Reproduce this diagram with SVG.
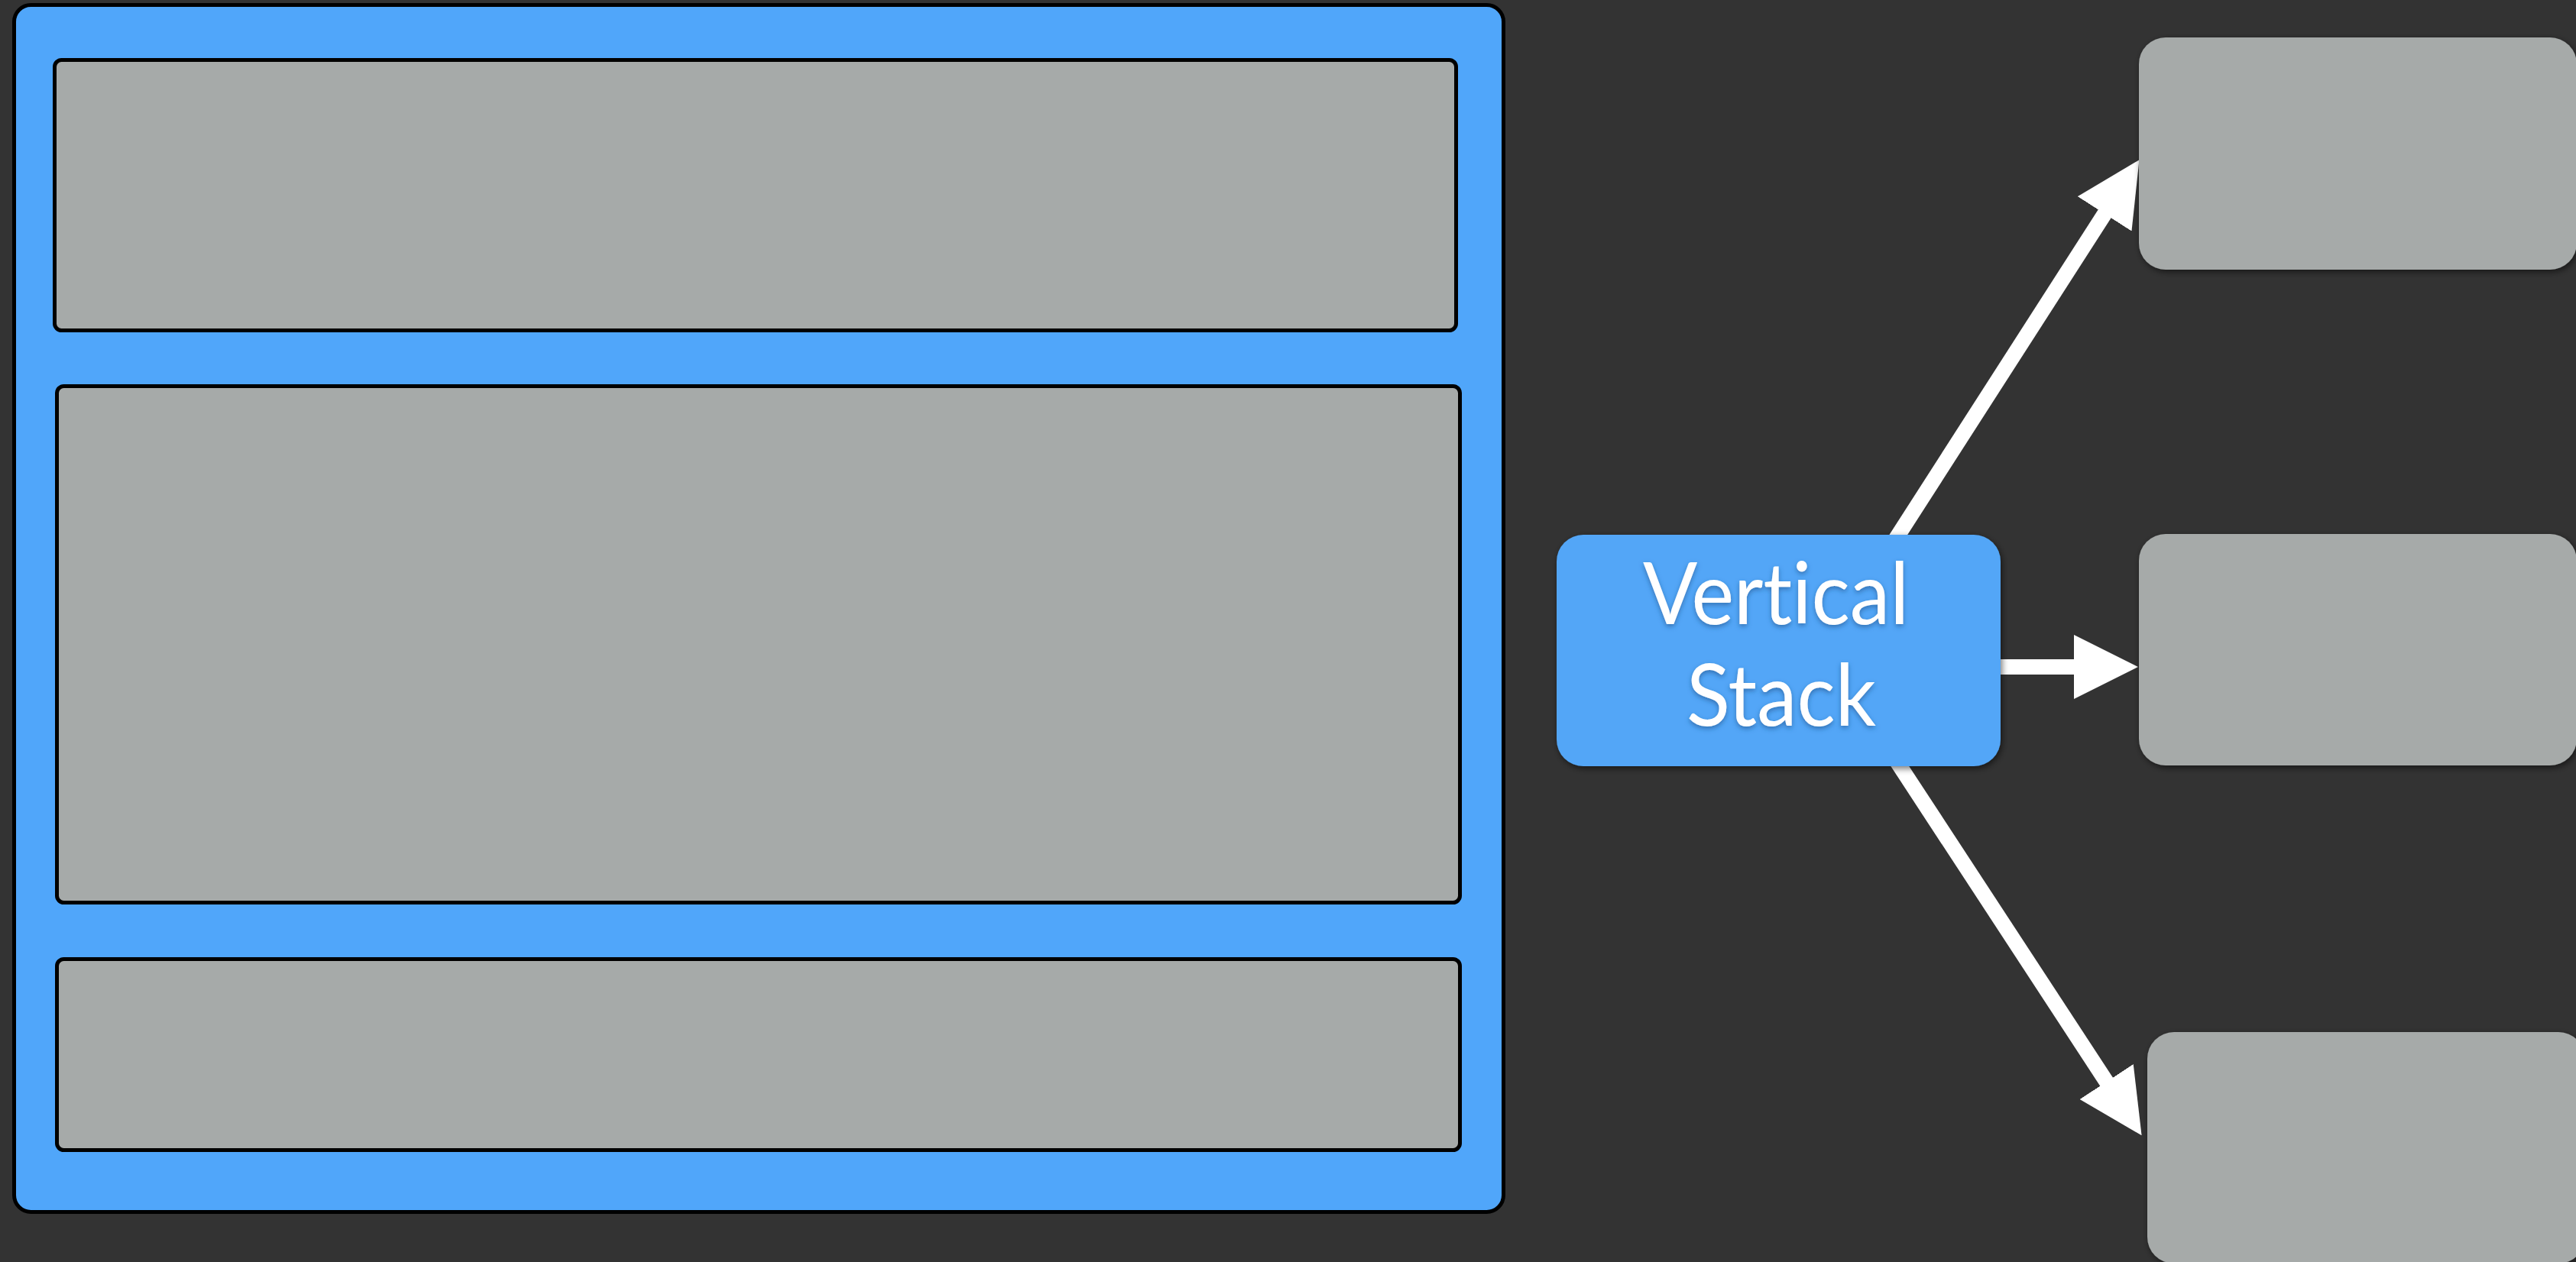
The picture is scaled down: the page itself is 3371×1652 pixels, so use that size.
<svg xmlns="http://www.w3.org/2000/svg" width="3371" height="1652" viewBox="0 0 3371 1652">
  <style>
    .frame { fill: #50a6fa; stroke: #000; stroke-width: 5; }
    .slot { fill: #a6aaa9; stroke: #000; stroke-width: 5; }
    .card { fill: #a6aaa9; filter: url(#soft); }
    .stack { fill: #52a6f7; filter: url(#soft); }
    .label { font-family: Lato, "Open Sans", "Liberation Sans", sans-serif; font-size: 113px; fill: #fff; text-anchor: middle; font-variant-ligatures: none; font-feature-settings: "liga" 0; filter: url(#glyphShade); }
    .link { stroke: #fff; stroke-width: 20; fill: none; marker-end: url(#head); }
  </style>
  <defs>
    <filter id="soft" x="-10%" y="-10%" width="120%" height="130%">
      <feDropShadow dx="2" dy="3" stdDeviation="4" flood-color="#000" flood-opacity="0.55"/>
    </filter>
    <filter id="glyphShade" x="-10%" y="-20%" width="120%" height="140%">
      <feDropShadow dx="0" dy="3" stdDeviation="3" flood-color="#1a4f86" flood-opacity="0.6"/>
    </filter>
    <marker id="head" markerUnits="userSpaceOnUse" markerWidth="84" markerHeight="84" viewBox="0 0 83 83" refX="4" refY="41.5" orient="auto">
      <path d="M0,0 L83,41.5 L0,83 z" fill="#fff"/>
    </marker>
  </defs>

  <rect width="3371" height="1652" fill="#333333"/>

  <!-- left panel: the stacked container and its three rows -->
  <g id="container">
    <rect class="frame" x="18.5" y="6.5" width="1949" height="1580" rx="22"/>
  </g>
  <g id="row-top">
    <rect class="slot" x="71.5" y="78.5" width="1834" height="354" rx="9"/>
  </g>
  <g id="row-middle">
    <rect class="slot" x="74.5" y="505.5" width="1836" height="676" rx="9"/>
  </g>
  <g id="row-bottom">
    <rect class="slot" x="74.5" y="1255.5" width="1836" height="250" rx="9"/>
  </g>

  <!-- arrows fanning out from the stack node -->
  <g id="connectors">
    <line class="link" x1="2381.5" y1="860" x2="2756.3" y2="276.5"/>
    <line class="link" x1="2400" y1="873" x2="2718" y2="873"/>
    <line class="link" x1="2392.7" y1="860" x2="2758.8" y2="1419.4"/>
  </g>

  <!-- right column of child cards -->
  <g id="child-top">
    <rect class="card" x="2799" y="49" width="573" height="304" rx="35"/>
  </g>
  <g id="child-middle">
    <rect class="card" x="2799" y="699" width="573" height="303" rx="35"/>
  </g>
  <g id="child-bottom">
    <rect class="card" x="2810" y="1351" width="573" height="303" rx="35"/>
  </g>

  <g id="vertical-stack">
    <rect class="stack" x="2037" y="700" width="581" height="303" rx="35"/>
    <text class="label" x="2324" y="817" textLength="348" lengthAdjust="spacingAndGlyphs">Vertical</text>
    <text class="label" x="2331" y="950" textLength="248" lengthAdjust="spacingAndGlyphs">Stack</text>
  </g>
</svg>
